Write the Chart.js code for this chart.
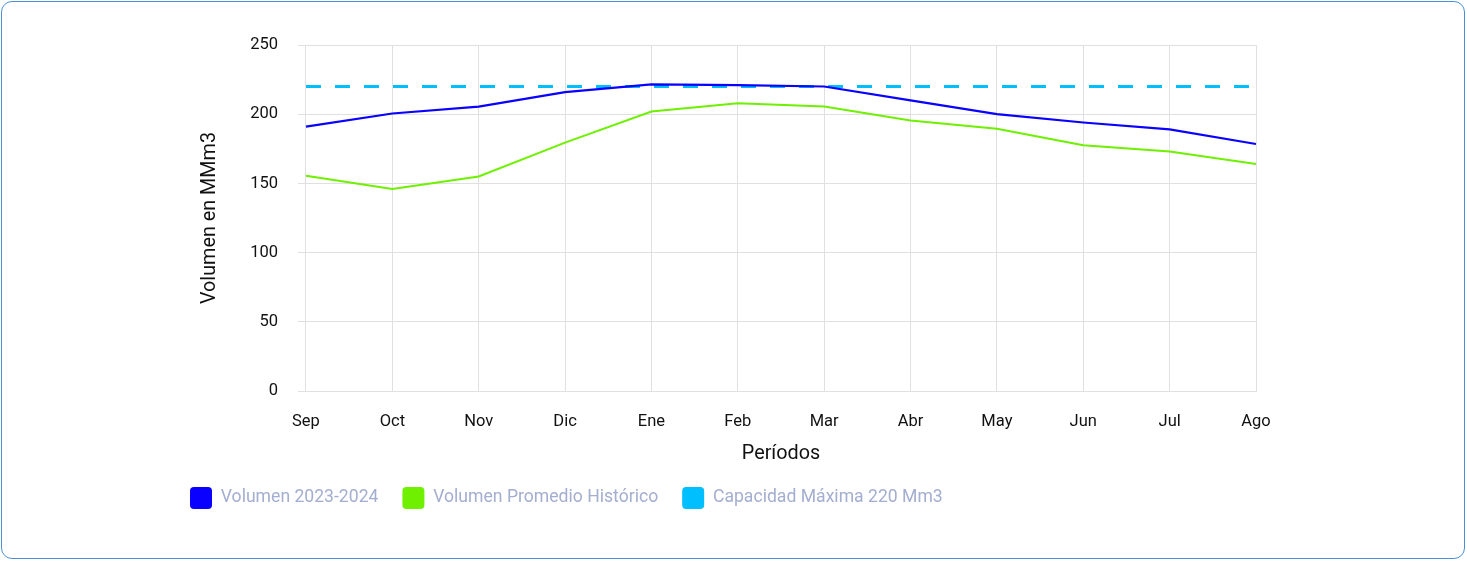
<!DOCTYPE html>
<html>
<head>
<meta charset="utf-8">
<script src="https://cdn.jsdelivr.net/npm/chart.js@4/dist/chart.umd.min.js"></script>
<style>
  html, body { margin: 0; padding: 0; background: #fff; }
  #wrap { position: relative; width: 1467px; height: 561px; }
  #card { position: absolute; left: 1px; top: 1px; width: 1462px; height: 556px;
          border: 1.5px solid #4a90d9; border-radius: 11px; pointer-events: none; }
  canvas { position: absolute; left: 0; top: 0; }
</style>
</head>
<body>
<div id="wrap">
  <canvas id="c" width="1467" height="561"></canvas>
  <div id="card"></div>
</div>
<script>
const periods = ['Sep','Oct','Nov','Dic','Ene','Feb','Mar','Abr','May','Jun','Jul','Ago'];
const volumen2324 = [191, 200.5, 205.5, 216, 221.5, 221, 220, 210, 200, 194, 189, 178.5];
const volumenPromedio = [155.5, 146, 155, 179.5, 202, 208, 205.5, 195.5, 189.5, 177.5, 173, 164];
const capacidadMaxima = [220, 220, 220, 220, 220, 220, 220, 220, 220, 220, 220, 220];
const seriesNames = ['Volumen 2023-2024', 'Volumen Promedio Histórico', 'Capacidad Máxima 220 Mm3'];
const yTitle = 'Volumen en MMm3';
const xTitle = 'Períodos';

Chart.defaults.font.family = 'Roboto';
const defaultLabels = Chart.defaults.plugins.legend.labels.generateLabels;
new Chart(document.getElementById('c'), {
  type: 'line',
  data: {
    labels: periods,
    datasets: [
      { label: seriesNames[0], data: volumen2324, borderColor: '#0a00ff', backgroundColor: '#0a00ff',
        borderWidth: 2.2, pointRadius: 0, tension: 0 },
      { label: seriesNames[1], data: volumenPromedio, borderColor: '#6ef000', backgroundColor: '#6ef000',
        borderWidth: 2, pointRadius: 0, tension: 0 },
      { label: seriesNames[2], data: capacidadMaxima, borderColor: '#00bfff', backgroundColor: '#00bfff',
        borderWidth: 3, borderDash: [15, 14], pointRadius: 0, tension: 0 }
    ]
  },
  options: {
    responsive: false,
    animation: false,
    layout: { padding: { left: 166, right: 211, top: 45, bottom: 42 } },
    plugins: {
      tooltip: { enabled: false },
      legend: {
        position: 'bottom',
        align: 'start',
        labels: {
          boxWidth: 22, boxHeight: 22, padding: 24,
          useBorderRadius: true, borderRadius: 4,
          color: '#a3aed0',
          font: { size: 17.6, family: 'Roboto' },
          generateLabels: (chart) => defaultLabels(chart).map(l => Object.assign(l, {
            lineDash: [], lineWidth: 0, strokeStyle: l.fillStyle
          }))
        }
      }
    },
    scales: {
      x: {
        grid: { color: '#e0e0e0', drawTicks: false },
        border: { color: '#e0e0e0' },
        ticks: { color: '#111', padding: 21, font: { size: 16.5 }, maxRotation: 0 },
        title: { display: true, text: xTitle, color: '#111', font: { size: 19.8 }, padding: { top: -10.6, bottom: -3 } }
      },
      y: {
        min: 0, max: 250,
        grid: { color: '#e0e0e0', tickLength: 8 },
        border: { color: '#e0e0e0' },
        ticks: { stepSize: 50, color: '#111', padding: 20, font: { size: 16.5 } },
        title: { display: true, text: yTitle, color: '#111', font: { size: 19.8 }, padding: { top: 32, bottom: 8.4 } }
      }
    }
  }
});
</script>
</body>
</html>
